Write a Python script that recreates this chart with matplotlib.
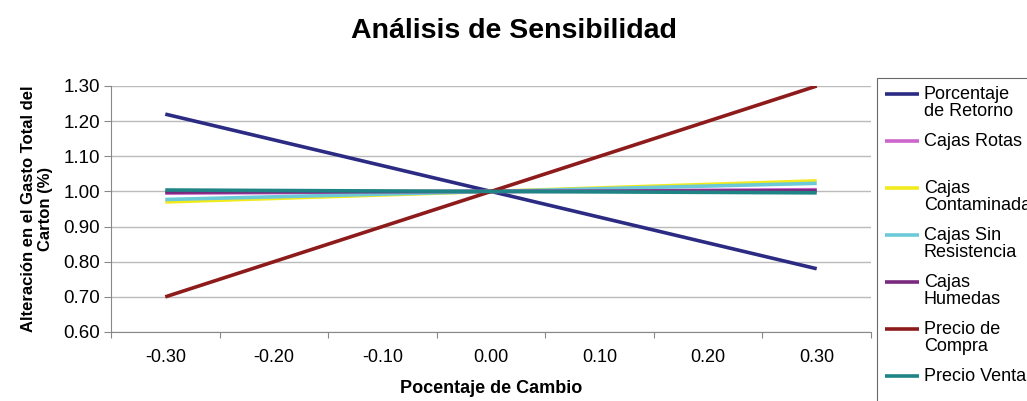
import numpy as np
from matplotlib import pyplot as plt
from matplotlib.legend_handler import HandlerLine2D

plt.rcParams['font.family'] = ['Liberation Sans', 'DejaVu Sans']

cambio = [-0.30, 0.00, 0.30]
retorno = [1.22, 1.00, 0.78]
rotas = [0.995, 1.00, 1.005]
contaminadas = [0.970, 1.00, 1.030]
sin_resistencia = [0.977, 1.00, 1.023]
humedas = [0.998, 1.00, 1.002]
precio_compra = [0.70, 1.00, 1.30]
precio_venta = [1.004, 1.00, 0.996]

categorias = [-0.30, -0.20, -0.10, 0.00, 0.10, 0.20, 0.30]
yticks = [0.60, 0.70, 0.80, 0.90, 1.00, 1.10, 1.20, 1.30]

series = [
    ("Porcentaje\nde Retorno", retorno, "#2B2B84"),
    ("Cajas Rotas\n ", rotas, "#CC66CC"),
    ("Cajas\nContaminadas", contaminadas, "#F2EA1C"),
    ("Cajas Sin\nResistencia", sin_resistencia, "#6CCAD8"),
    ("Cajas\nHumedas", humedas, "#7A2A7E"),
    ("Precio de\nCompra", precio_compra, "#8E1B1B"),
    ("Precio Venta\n ", precio_venta, "#1F8486"),
]


# put the legend line beside the first text line, like excel does
class TopLine(HandlerLine2D):
    def create_artists(self, legend, orig_handle, xdescent, ydescent, width, height, fontsize, trans):
        arts = super().create_artists(legend, orig_handle, xdescent, ydescent, width, height, fontsize, trans)
        for a in arts:
            a.set_ydata(np.asarray(a.get_ydata()) + 0.5 * fontsize)
        return arts


fig = plt.figure(figsize=(10.27, 4.01), dpi=100)
ax = fig.add_axes([111/1027, 1-332/401, 760/1027, 246/401])

for label, vals, col in series:
    ax.plot(cambio, vals, color=col, lw=2.6, label=label, solid_capstyle='butt')

# category style axis: labels in the middle of each slot, tick marks between
ax.set_xlim(-0.35, 0.35)
ax.set_xticks(np.arange(-0.35, 0.36, 0.10))
ax.set_xticklabels([])
ax.set_xticks(categorias, minor=True)
ax.set_xticklabels(["%.2f" % v for v in categorias], minor=True, fontsize=13)
ax.tick_params(axis='x', which='minor', length=0, pad=12)
ax.tick_params(axis='x', which='major', length=4, color='#888888')

ax.set_ylim(0.60, 1.30)
ax.set_yticks(yticks)
ax.set_yticklabels(["%.2f" % v for v in yticks], fontsize=13.5)
ax.tick_params(axis='y', length=5, color='#888888', pad=3)

ax.grid(axis='y', color='#BBBBBB', lw=1)
ax.set_axisbelow(True)
for s in ['top', 'right']:
    ax.spines[s].set_visible(False)
ax.spines['left'].set_color('#888888')
ax.spines['bottom'].set_color('#888888')

ax.set_xlabel("Pocentaje de Cambio", fontsize=13, fontweight='bold', labelpad=10)
ax.set_ylabel("Alteración en el Gasto Total del\nCarton (%)", fontsize=12, fontweight='bold', labelpad=7)
fig.suptitle("Análisis de Sensibilidad", fontsize=20.5, fontweight='bold', y=0.955)

leg = fig.legend(loc='upper left', bbox_to_anchor=(877/1027, 1-78/401), fontsize=13,
                 frameon=True, fancybox=False, edgecolor='#444444', handlelength=1.9,
                 handletextpad=0.25, labelspacing=0.72, borderpad=0.45, borderaxespad=0,
                 handler_map={plt.Line2D: TopLine()})
leg.get_frame().set_linewidth(0.8)
for t in leg.get_texts():
    t.set_linespacing(1.0)

fig.savefig("out.png", dpi=100)
